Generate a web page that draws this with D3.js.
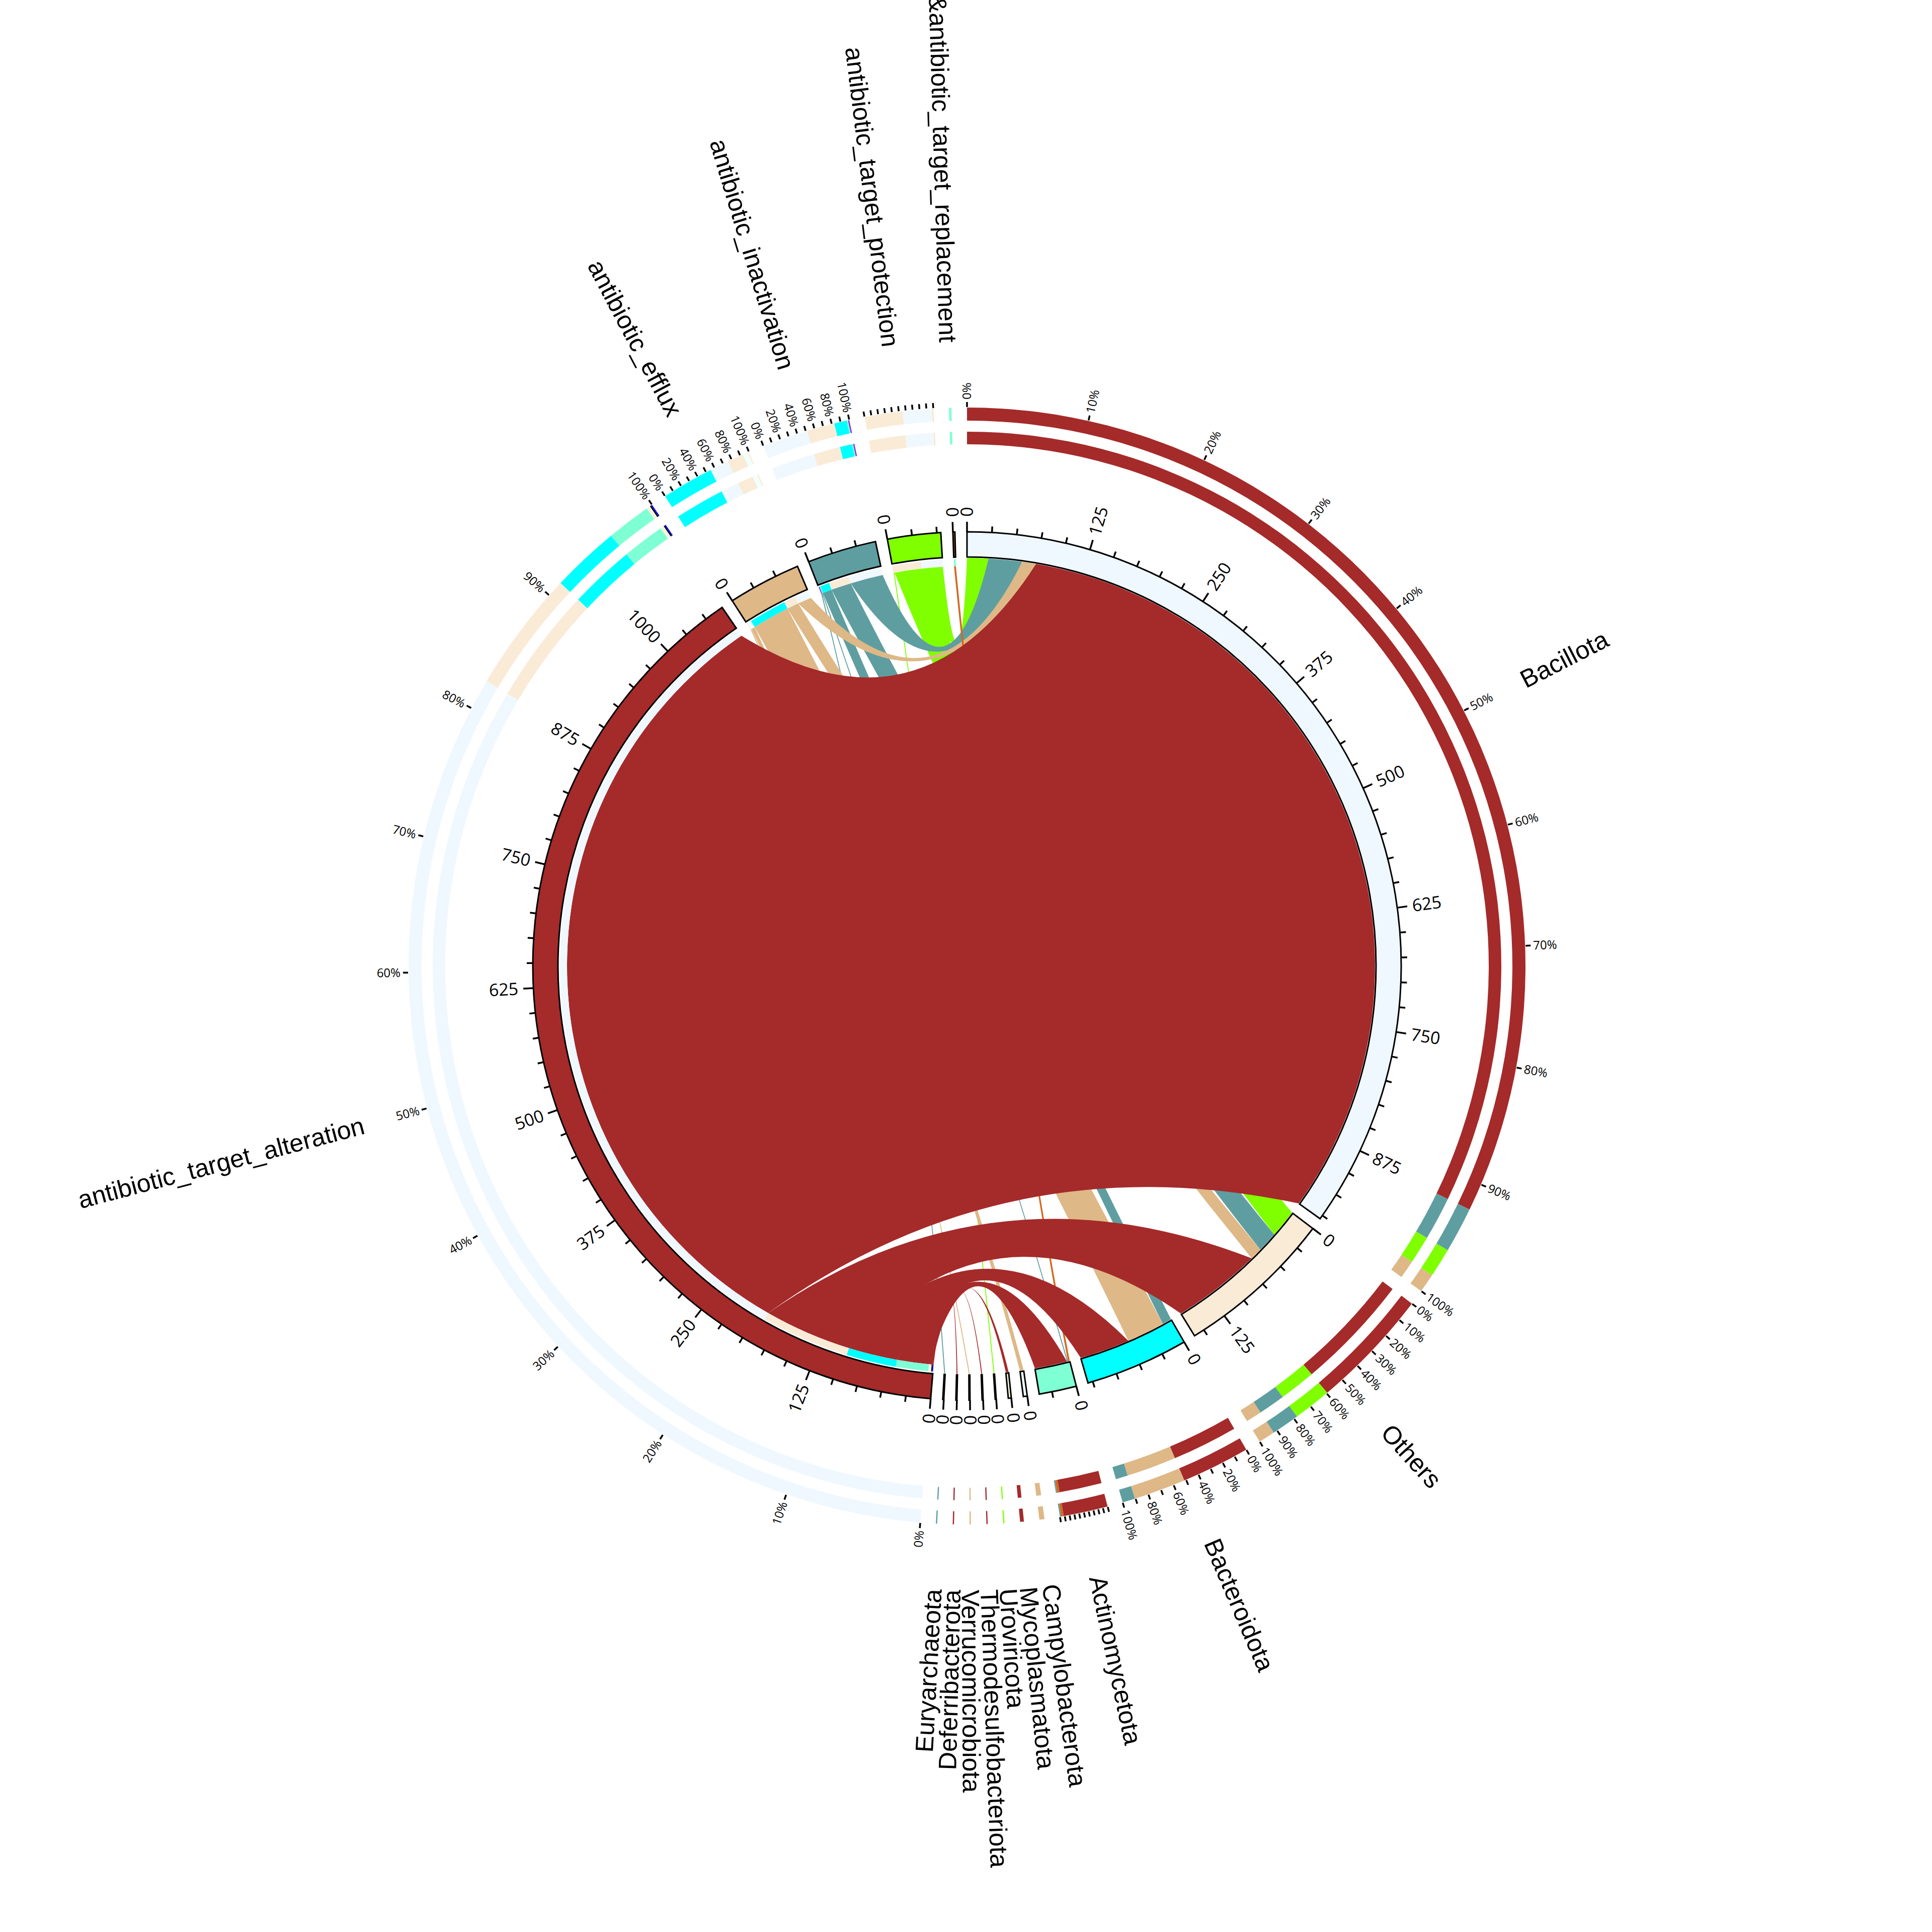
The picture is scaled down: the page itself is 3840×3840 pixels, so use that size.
<!DOCTYPE html>
<html>
<head>
<meta charset="utf-8">
<script src="https://cdn.jsdelivr.net/npm/d3@7"></script>
<style>
  body { margin: 0; background: #fff; }
</style>
</head>
<body>
<div id="chart"></div>
<script>
// phyla (source sectors), in clockwise order
const phyla = ["Bacillota", "Others", "Bacteroidota", "Actinomycetota", "Campylobacterota",
  "Mycoplasmatota", "Uroviricota", "Thermodesulfobacteriota", "Verrucomicrobiota",
  "Deferribacterota", "Euryarchaeota"];
const phylumColors = ["aliceblue", "antiquewhite", "aqua", "aquamarine", "azure", "beige",
  "bisque", "black", "blanchedalmond", "blue", "blueviolet"];

// resistance mechanisms (target sectors)
const mechanisms = ["antibiotic_target_alteration", "antibiotic_efflux", "antibiotic_inactivation",
  "antibiotic_target_protection", "antibiotic_target_alteration&antibiotic_target_replacement"];
const mechanismColors = ["brown", "burlywood", "cadetblue", "chartreuse", "chocolate"];

// gene counts per phylum (same order as phyla) for each mechanism
const targetAlteration   = [880, 96, 54, 35, 0, 3, 0, 1, 0, 1, 0];
const efflux             = [15, 13, 41, 0, 4, 0, 0, 0, 1, 0, 0];
const inactivation       = [36, 22, 10, 1, 0, 0, 0, 0, 0, 0, 1];
const targetProtection   = [23, 30, 0, 0, 0, 0, 1, 0, 0, 0, 0];
const targetReplacement  = [0, 0, 0, 2, 0, 0, 0, 0, 0, 0, 0];

const countMajor = 125, countMinor = 25;
const percentTicks = [0, 10, 20, 30, 40, 50, 60, 70, 80, 90, 100];

const columns = [targetAlteration, efflux, inactivation, targetProtection, targetReplacement];
const matrix = phyla.map((p, i) => columns.map(col => col[i]));

const W = 3840, H = 3840, cx = 1922, cy = 1920;
const R = {
  boxIn: 813, boxOut: 863, stripIn: 795, stripOut: 809,
  ribPhy: 811, ribMech: 795,
  ring1In: 1037, ring1Out: 1062, ring2In: 1084, ring2Out: 1110,
  pTickOut: 1121, pLabel: 1126, tickLabel: 893, name: 1240
};
const gapDeg = 1.6;
const bend = 0.6;

// sectors
const sectors = [];
phyla.forEach((name, i) => sectors.push({ name, color: phylumColors[i], kind: "phylum", idx: i, value: d3.sum(matrix[i]) }));
mechanisms.forEach((name, j) => sectors.push({ name, color: mechanismColors[j], kind: "mech", idx: j, value: d3.sum(matrix, r => r[j]) }));

const total = d3.sum(sectors, d => d.value);
const gap = gapDeg * Math.PI / 180;
const unit = (2 * Math.PI - gap * sectors.length) / total;
let a0 = 0;
sectors.forEach(s => {
  s.start = a0;
  s.end = a0 + s.value * unit;
  s.scale = d3.scaleLinear().domain([0, s.value]).range([s.start, s.end]);
  a0 = s.end + gap;
});
const phySector = i => sectors[i];
const mechSector = j => sectors[phyla.length + j];

// links, with positions on both ends
const links = [];
phyla.forEach((p, i) => mechanisms.forEach((m, j) => {
  if (matrix[i][j] > 0) links.push({ i, j, v: matrix[i][j] });
}));
phyla.forEach((p, i) => {
  let off = 0;
  d3.range(mechanisms.length - 1, -1, -1).forEach(j => {
    const l = links.find(d => d.i === i && d.j === j);
    if (l) { l.p0 = off; l.p1 = off + l.v; off += l.v; }
  });
});
mechanisms.forEach((m, j) => {
  let off = 0;
  d3.range(phyla.length - 1, -1, -1).forEach(i => {
    const l = links.find(d => d.i === i && d.j === j);
    if (l) { l.m0 = off; l.m1 = off + l.v; off += l.v; }
  });
});

const polar = (a, r) => [r * Math.sin(a), -r * Math.cos(a)];

function ribbonPath(a0, a1, r1, b0, b1, r2) {
  const p = d3.path();
  const A0 = polar(a0, r1), A1 = polar(a1, r1), B0 = polar(b0, r2), B1 = polar(b1, r2);
  const ctrl = (P, Q) => [(P[0] + Q[0]) / 2 * bend, (P[1] + Q[1]) / 2 * bend];
  p.moveTo(A0[0], A0[1]);
  p.arc(0, 0, r1, a0 - Math.PI / 2, a1 - Math.PI / 2);
  const c1 = ctrl(A1, B0);
  p.quadraticCurveTo(c1[0], c1[1], B0[0], B0[1]);
  p.arc(0, 0, r2, b0 - Math.PI / 2, b1 - Math.PI / 2);
  const c2 = ctrl(B1, A0);
  p.quadraticCurveTo(c2[0], c2[1], A0[0], A0[1]);
  p.closePath();
  return p.toString();
}

const svg = d3.select("#chart").append("svg").attr("width", W).attr("height", H);
svg.append("rect").attr("width", W).attr("height", H).attr("fill", "#fff");
const g = svg.append("g").attr("transform", `translate(${cx},${cy})`);

// ribbons (brown drawn last, on top)
const drawOrder = [3, 2, 1, 4, 0];
const ribbons = g.append("g");
drawOrder.forEach(j => {
  links.filter(l => l.j === j).forEach(l => {
    const ps = phySector(l.i), ms = mechSector(l.j);
    ribbons.append("path")
      .attr("d", ribbonPath(ps.scale(l.p0), ps.scale(l.p1), R.ribPhy, ms.scale(l.m0), ms.scale(l.m1), R.ribMech))
      .attr("fill", mechanismColors[l.j]);
  });
});

// strips under mechanism boxes, coloured by phylum
links.forEach(l => {
  const ms = mechSector(l.j);
  g.append("path")
    .attr("d", d3.arc().innerRadius(R.stripIn).outerRadius(R.stripOut)
      .startAngle(ms.scale(l.m0)).endAngle(ms.scale(l.m1))())
    .attr("fill", phylumColors[l.i]);
});

// sector boxes
g.selectAll(".box").data(sectors).join("path")
  .attr("class", "box")
  .attr("d", d => d3.arc().innerRadius(R.boxIn).outerRadius(R.boxOut).startAngle(d.start).endAngle(d.end)())
  .attr("fill", d => d.color)
  .attr("stroke", "#000")
  .attr("stroke-width", 3);

function radialText(parent, a, r, text, size, family) {
  const deg = a * 180 / Math.PI;
  const norm = ((deg % 360) + 360) % 360;
  const right = norm < 180;
  const [x, y] = polar(a, r);
  return parent.append("text")
    .attr("transform", `translate(${x},${y}) rotate(${right ? deg - 90 : deg + 90})`)
    .attr("text-anchor", right ? "start" : "end")
    .attr("dy", "0.35em")
    .attr("font-size", size)
    .attr("font-family", family)
    .attr("fill", "#000")
    .text(text);
}

// count ticks on the boxes
const ticks = g.append("g");
sectors.forEach(s => {
  for (let v = 0; v <= s.value; v += countMinor) {
    const major = v % countMajor === 0;
    const a = s.scale(v);
    const [x1, y1] = polar(a, R.boxOut);
    const [x2, y2] = polar(a, R.boxOut + (major ? 20 : 12));
    ticks.append("line").attr("x1", x1).attr("y1", y1).attr("x2", x2).attr("y2", y2)
      .attr("stroke", "#000").attr("stroke-width", 3.5);
    if (major) radialText(ticks, a, R.tickLabel, String(v), 34, "'Open Sans', sans-serif");
  }
});

// two outer composition rings
function composition(s) {
  const items = s.kind === "phylum"
    ? mechanisms.map((m, j) => ({ color: mechanismColors[j], v: matrix[s.idx][j] }))
    : phyla.map((p, i) => ({ color: phylumColors[i], v: matrix[i][s.idx] }));
  return items.filter(d => d.v > 0).sort((a, b) => b.v - a.v);
}
const rings = g.append("g");
sectors.forEach(s => {
  const comp = composition(s);
  const pct = d3.scaleLinear().domain([0, s.value]).range([s.start, s.end]);
  let acc = 0;
  comp.forEach(c => {
    [[R.ring1In, R.ring1Out], [R.ring2In, R.ring2Out]].forEach(([ri, ro]) => {
      rings.append("path")
        .attr("d", d3.arc().innerRadius(ri).outerRadius(ro).startAngle(pct(acc)).endAngle(pct(acc + c.v))())
        .attr("fill", c.color);
    });
    acc += c.v;
  });
  // percentage ticks
  const spanDeg = (s.end - s.start) * 180 / Math.PI;
  if (spanDeg < 3) return;
  const pscale = d3.scaleLinear().domain([0, 100]).range([s.start, s.end]);
  percentTicks.forEach(p => {
    const a = pscale(p);
    const [x1, y1] = polar(a, R.ring2Out + 1);
    const [x2, y2] = polar(a, R.pTickOut);
    rings.append("line").attr("x1", x1).attr("y1", y1).attr("x2", x2).attr("y2", y2)
      .attr("stroke", "#000").attr("stroke-width", 3.5);
    const labelled = spanDeg >= 18 || (spanDeg >= 8 && p % 20 === 0);
    if (labelled) radialText(rings, a, R.pLabel, p + "%", 24, "'Open Sans', sans-serif");
  });
});

// sector names
const names = g.append("g");
sectors.forEach(s => {
  radialText(names, (s.start + s.end) / 2, R.name, s.name, 50, "'Liberation Sans', Arial, sans-serif");
});
</script>
</body>
</html>
